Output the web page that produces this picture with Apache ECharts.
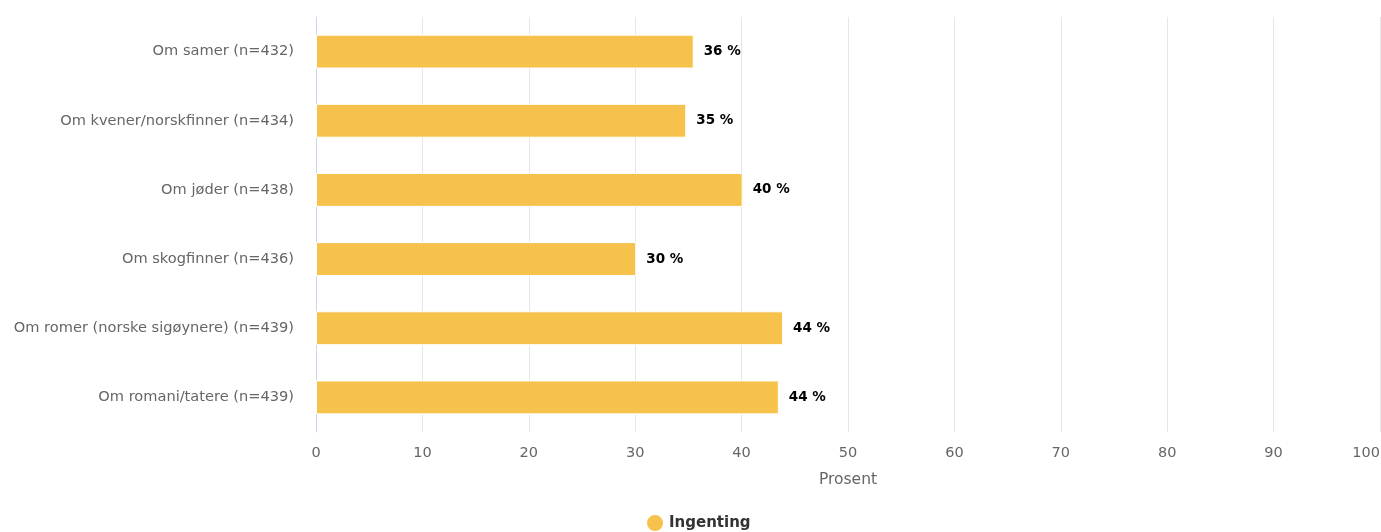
<!DOCTYPE html>
<html>
<head>
<meta charset="utf-8">
<script src="https://cdn.jsdelivr.net/npm/echarts@6/dist/echarts.min.js"></script>
<style>
html,body{margin:0;padding:0;background:#fff;}
#chart{width:1381px;height:532px;}
</style>
</head>
<body>
<div id="chart"></div>
<script>
const categories = [
  "Om samer (n=432)",
  "Om kvener/norskfinner (n=434)",
  "Om jøder (n=438)",
  "Om skogfinner (n=436)",
  "Om romer (norske sigøynere) (n=439)",
  "Om romani/tatere (n=439)"
];
const seriesName = "Ingenting";
const values = [35.5, 34.8, 40.1, 30.1, 43.9, 43.5];
const xTicks = [0, 10, 20, 30, 40, 50, 60, 70, 80, 90, 100];
const axisTitle = "Prosent";

const font = "DejaVu Sans";
const chart = echarts.init(document.getElementById('chart'), null, {renderer: 'canvas'});
chart.setOption({
  animation: false,
  textStyle: {fontFamily: font},
  grid: {left: 316, right: 1, top: 17, bottom: 100, containLabel: false, outerBoundsMode: 'none'},
  legend: {
    data: [seriesName],
    bottom: -6,
    left: 640,
    icon: 'circle',
    itemWidth: 18,
    itemHeight: 18,
    itemGap: 10,
    textStyle: {fontFamily: font, fontSize: 15, fontWeight: 'bold', color: '#333'}
  },
  xAxis: {
    type: 'value',
    min: xTicks[0],
    max: xTicks[xTicks.length - 1],
    interval: 10,
    name: axisTitle,
    nameLocation: 'middle',
    nameGap: 40,
    nameTextStyle: {fontFamily: font, fontSize: 15.5, color: '#666'},
    axisLine: {show: false},
    axisTick: {show: false},
    axisLabel: {fontFamily: font, fontSize: 14.5, color: '#666', margin: 14, alignMaxLabel: 'right'},
    splitLine: {show: true, lineStyle: {color: '#e6e6e6', width: 1}}
  },
  yAxis: {
    type: 'category',
    data: categories,
    inverse: true,
    axisLine: {show: true, lineStyle: {color: '#ccd6eb', width: 1}},
    axisTick: {show: false},
    axisLabel: {fontFamily: font, fontSize: 14.6, color: '#666', margin: 22}
  },
  series: [{
    name: seriesName,
    type: 'bar',
    data: values,
    barWidth: '49%',
    itemStyle: {color: '#f6c24b', borderColor: '#fff', borderWidth: 1},
    label: {
      show: true,
      position: 'right',
      distance: 10,
      formatter: p => Math.round(p.value) + ' %',
      fontFamily: font,
      fontSize: 13.5,
      fontWeight: 'bold',
      color: '#000'
    }
  }]
});
</script>
</body>
</html>
